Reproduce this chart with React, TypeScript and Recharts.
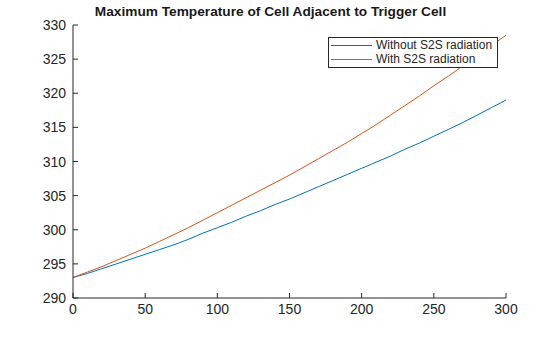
import React from 'react';
import { LineChart, Line, XAxis, YAxis } from 'recharts';

const times = [0, 10, 20, 30, 40, 50, 60, 70, 80, 90, 100, 110, 120, 130, 140, 150, 160, 170, 180, 190, 200, 210, 220, 230, 240, 250, 260, 270, 280, 290, 300];
const withoutS2S = [293, 293.6, 294.3, 295.0, 295.7, 296.4, 297.1, 297.8, 298.6, 299.5, 300.3, 301.1, 302.0, 302.8, 303.7, 304.5, 305.4, 306.3, 307.2, 308.1, 309.0, 309.9, 310.8, 311.8, 312.7, 313.7, 314.7, 315.7, 316.8, 317.9, 319.0];
const withS2S = [293, 293.8, 294.6, 295.5, 296.4, 297.3, 298.3, 299.3, 300.3, 301.4, 302.5, 303.6, 304.7, 305.8, 306.9, 308.0, 309.2, 310.4, 311.6, 312.8, 314.1, 315.4, 316.8, 318.2, 319.6, 321.1, 322.5, 324.0, 325.5, 327.0, 328.5];
const xTicks = [0, 50, 100, 150, 200, 250, 300];
const yTicks = [290, 295, 300, 305, 310, 315, 320, 325, 330];
const seriesNames = ['Without S2S radiation', 'With S2S radiation'];
const seriesColors = ['#0072BD', '#D95319'];

const data = times.map((t, i) => ({ t, without: withoutS2S[i], with: withS2S[i] }));

const font = '"Liberation Sans", Arial, Helvetica, sans-serif';
const axisColor = '#262626';

// matlab style: ticks point into the plot box
const BottomTick = (p: any) => (
    <g>
        <line x1={p.x} y1={p.y} x2={p.x} y2={p.y - 5} stroke={axisColor} />
        <text x={p.x} y={p.y + 16} textAnchor="middle" fill={axisColor} fontSize={14} fontFamily={font}>{p.payload.value}</text>
    </g>
);
const TopTick = (p: any) => <line x1={p.x} y1={p.y} x2={p.x} y2={p.y + 5} stroke={axisColor} />;
const LeftTick = (p: any) => (
    <g>
        <line x1={p.x} y1={p.y} x2={p.x + 5} y2={p.y} stroke={axisColor} />
        <text x={p.x - 7} y={p.y + 5} textAnchor="end" fill={axisColor} fontSize={14} fontFamily={font}>{p.payload.value}</text>
    </g>
);
const RightTick = (p: any) => <line x1={p.x} y1={p.y} x2={p.x - 5} y2={p.y} stroke={axisColor} />;

export default function App() {
    return (
        <div style={{ position: 'absolute', left: 0, top: 0, width: 560, height: 337, background: '#fff' }}>
            <div style={{
                position: 'absolute', left: 0, width: 541, top: 4, textAlign: 'center',
                fontFamily: font, fontWeight: 'bold', fontSize: 13.7, color: '#1a1a1a'
            }}>
                Maximum Temperature of Cell Adjacent to Trigger Cell
            </div>
            <LineChart width={560} height={337} data={data} margin={{ top: 25, right: 54, left: 0, bottom: 0 }}>
                <XAxis xAxisId="b" dataKey="t" type="number" domain={[0, 300]} ticks={xTicks} height={39}
                    stroke={axisColor} tickSize={0} tickMargin={0} tickLine={false} interval={0} tick={<BottomTick />} />
                <XAxis xAxisId="top" dataKey="t" type="number" domain={[0, 300]} ticks={xTicks} orientation="top" height={0}
                    stroke={axisColor} tickSize={0} tickMargin={0} tickLine={false} interval={0} tick={<TopTick />} />
                <YAxis yAxisId="l" type="number" domain={[290, 330]} ticks={yTicks} width={73}
                    stroke={axisColor} tickSize={0} tickMargin={0} tickLine={false} interval={0} tick={<LeftTick />} />
                <YAxis yAxisId="r" type="number" domain={[290, 330]} ticks={yTicks} orientation="right" width={0}
                    stroke={axisColor} tickSize={0} tickMargin={0} tickLine={false} interval={0} tick={<RightTick />} />
                <Line xAxisId="b" yAxisId="l" dataKey="without" name={seriesNames[0]} stroke={seriesColors[0]} strokeWidth={1} dot={false} isAnimationActive={false} />
                <Line xAxisId="b" yAxisId="l" dataKey="with" name={seriesNames[1]} stroke={seriesColors[1]} strokeWidth={1} dot={false} isAnimationActive={false} />
            </LineChart>
            <div style={{
                position: 'absolute', left: 328, top: 37, width: 166, border: `1px solid ${axisColor}`, background: '#fff',
                fontFamily: font, fontSize: 12, color: axisColor, padding: '0 0 1px 2px', lineHeight: '14px'
            }}>
                {seriesNames.map((n, i) => (
                    <div key={n} style={{ display: 'flex', alignItems: 'center' }}>
                        <span style={{ display: 'inline-block', width: 41, height: 0, borderTop: `1px solid ${seriesColors[i]}`, marginRight: 4 }} />
                        <span>{n}</span>
                    </div>
                ))}
            </div>
        </div>
    );
}
